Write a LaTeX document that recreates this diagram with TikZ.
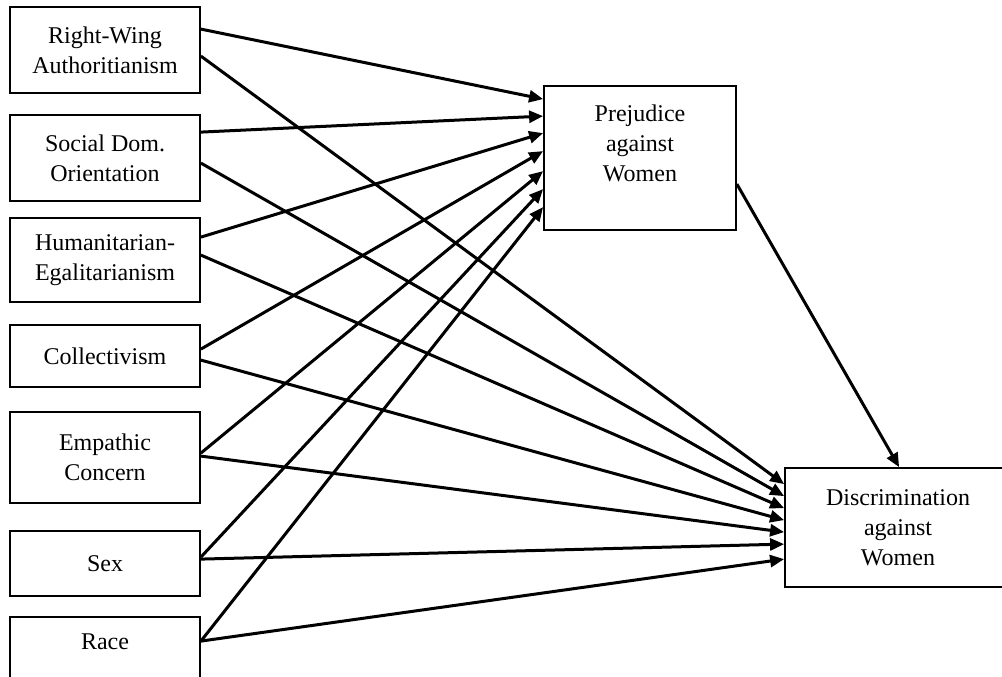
\documentclass[tikz,border=0pt]{standalone}
\usepackage{fontspec}
\setmainfont{Liberation Serif}
\usetikzlibrary{arrows.meta,calc}
\begin{document}
\begin{tikzpicture}[x=1pt,y=-1pt,
  box/.style={draw=black,line width=1.8pt,rectangle,inner sep=0pt,align=center,
    font=\fontsize{24}{30}\selectfont},
  arr/.style={line width=3pt,-{Triangle[length=14pt,width=12pt]}}]
\useasboundingbox[fill=white] (0,0) rectangle (1002,677);
% left column
\node[box,minimum width=190pt,minimum height=86pt] (rwa) at (105,50) {Right-Wing\\Authoritianism};
\node[box,minimum width=190pt,minimum height=86pt] (sdo) at (105,158) {Social Dom.\\Orientation};
\node[box,minimum width=190pt,minimum height=84pt] (hum) at (105,260) {Humanitarian-\\Egalitarianism};
\node[box,minimum width=190pt,minimum height=62pt] (col) at (105,356) {Collectivism};
\node[box,minimum width=190pt,minimum height=91pt] (emp) at (105,457.5) {Empathic\\Concern};
\node[box,minimum width=190pt,minimum height=65pt] (sex) at (105,563.5) {Sex};
\node[box,minimum width=190pt,minimum height=63pt,text depth=14pt] (race) at (105,648.5) {Race};
% outcomes
\node[box,minimum width=192pt,minimum height=144pt] (prej) at (640,158) {Prejudice\\against\\Women\\\mbox{}};
\node[box,minimum width=226pt,minimum height=119pt] (disc) at (898,527.5) {Discrimination\\against\\Women};
% arrows to prejudice
\draw[arr] ($(rwa.north east)+(0,23)$) -- ($(prej.north west)+(0,14)$);
\draw[arr] ($(sdo.north east)+(0,18)$) -- ($(prej.north west)+(0,31)$);
\draw[arr] ($(hum.north east)+(0,20)$) -- ($(prej.north west)+(0,48)$);
\draw[arr] ($(col.north east)+(0,25)$) -- ($(prej.north west)+(0,66)$);
\draw[arr] ($(emp.north east)+(0,42)$) -- ($(prej.north west)+(0,86)$);
\draw[arr] ($(sex.north east)+(0,27)$) -- ($(prej.north west)+(0,104)$);
\draw[arr] ($(race.north east)+(0,25)$) -- ($(prej.north west)+(0,122)$);
% arrows to discrimination
\draw[arr] ($(rwa.north east)+(0,50)$) -- ($(disc.north west)+(0,17)$);
\draw[arr] ($(sdo.north east)+(0,49)$) -- ($(disc.north west)+(0,29)$);
\draw[arr] ($(hum.north east)+(0,38)$) -- ($(disc.north west)+(0,41)$);
\draw[arr] ($(col.north east)+(0,36)$) -- ($(disc.north west)+(0,53)$);
\draw[arr] ($(emp.north east)+(0,45)$) -- ($(disc.north west)+(0,65)$);
\draw[arr] ($(sex.north east)+(0,29)$) -- ($(disc.north west)+(0,77)$);
\draw[arr] ($(race.north east)+(0,25)$) -- ($(disc.north west)+(0,92)$);
% prejudice to discrimination
\draw[arr] ($(prej.north east)+(0,99)$) -- ($(disc.north west)+(115,0)$);
\end{tikzpicture}
\end{document}
